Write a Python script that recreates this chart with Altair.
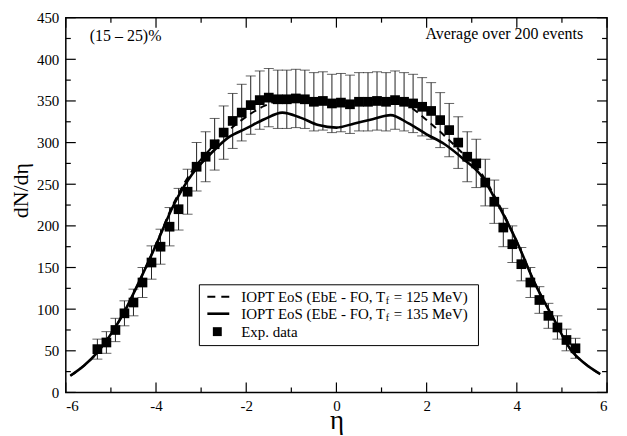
import altair as alt
import pandas as pd

# ---------------- data ----------------
exp_eta = [-5.3, -5.1, -4.9, -4.7, -4.5, -4.3, -4.1, -3.9, -3.7, -3.5, -3.3, -3.1, -2.9, -2.7,
           -2.5, -2.3, -2.1, -1.9, -1.7, -1.5, -1.3, -1.1, -0.9, -0.7, -0.5, -0.3, -0.1,
           0.1, 0.3, 0.5, 0.7, 0.9, 1.1, 1.3, 1.5, 1.7, 1.9, 2.1, 2.3, 2.5, 2.7, 2.9,
           3.1, 3.3, 3.5, 3.7, 3.9, 4.1, 4.3, 4.5, 4.7, 4.9, 5.1, 5.3]
exp_val = [52, 60, 75, 95, 108, 132, 156, 175, 199, 220, 241, 271, 283, 298,
           312, 326, 336, 345, 351, 354, 352, 352, 353, 352, 349, 350, 347,
           348, 346, 349, 349, 350, 349, 351, 349, 347, 343, 338, 327, 315, 300, 283,
           275, 252, 229, 198, 178, 154, 132, 111, 92, 78, 63, 53]
exp_err = [12, 13, 14, 15, 16, 18, 20, 21, 23, 25, 27, 29, 30, 31,
           32, 33, 34, 35, 35, 35, 35, 35, 35, 35, 35, 35, 35,
           35, 35, 35, 35, 35, 35, 35, 35, 35, 35, 34, 33, 32, 31, 30,
           29, 28, 26, 23, 22, 20, 18, 16, 15, 14, 13, 12]

model_eta = [-5.9, -5.6, -5.3, -5.0, -4.7, -4.4, -4.0, -3.6, -3.2, -2.8, -2.4, -2.0, -1.6,
             -1.2, -0.8, -0.4, 0.0, 0.4, 0.8, 1.2, 1.6, 2.0, 2.4, 2.8, 3.2, 3.6, 4.0,
             4.4, 4.8, 5.2, 5.5, 5.85]
tf135 = [20, 32, 48, 70, 97, 130, 177, 226, 262, 286, 306, 317, 328,
         336, 330, 321, 318, 323, 328, 333, 323, 310, 298, 281, 261, 224, 181,
         131, 90, 51, 35, 22]
tf125 = [20, 32, 48, 70, 97, 130, 178, 228, 266, 292, 314, 331, 344,
         351, 352, 349, 347, 349, 351, 351, 344, 327, 308, 287, 264, 226, 181,
         131, 90, 51, 35, 22]

x_major = [-6, -4, -2, 0, 2, 4, 6]
x_minor = [-5, -3, -1, 1, 3, 5]
y_major = [0, 50, 100, 150, 200, 250, 300, 350, 400, 450]
y_minor = [25, 75, 125, 175, 225, 275, 325, 375, 425]

legend_labels = ["IOPT EoS (EbE - FO, T", "IOPT EoS (EbE - FO, T"]
legend_tail = ["= 125 MeV)", "= 135 MeV)"]

# ---------------- layout ----------------
W, H = 543, 376
FONT = "Liberation Serif"

xs = alt.Scale(domain=[-6, 6], nice=False, zero=False)
ys = alt.Scale(domain=[0, 450], nice=False, zero=False)

exp_df = pd.DataFrame({
    "eta": exp_eta,
    "v": exp_val,
    "lo": [v - e for v, e in zip(exp_val, exp_err)],
    "hi": [v + e for v, e in zip(exp_val, exp_err)],
})
m135 = pd.DataFrame({"eta": model_eta, "v": tf135})
m125 = pd.DataFrame({"eta": model_eta, "v": tf125})

X = lambda: alt.X("eta:Q", scale=xs, axis=alt.Axis(
    values=x_major, title="η", labelExpr="toString(datum.value)",
    titleFontSize=27, titlePadding=-6, labelPadding=6))
Y = lambda: alt.Y("v:Q", scale=ys, axis=alt.Axis(
    values=y_major, title="dN/dη", titleFontSize=22, titlePadding=4, labelPadding=7,
    titleY=173))

err_rule = alt.Chart(exp_df).mark_rule(color="#222", strokeWidth=1).encode(
    x=X(), y=alt.Y("lo:Q", scale=ys), y2="hi:Q")
cap_lo = alt.Chart(exp_df).mark_tick(color="#222", orient="horizontal", size=10, thickness=1).encode(
    x=X(), y=alt.Y("lo:Q", scale=ys))
cap_hi = alt.Chart(exp_df).mark_tick(color="#222", orient="horizontal", size=10, thickness=1).encode(
    x=X(), y=alt.Y("hi:Q", scale=ys))

line135 = alt.Chart(m135).mark_line(color="black", strokeWidth=2.6, interpolate="monotone").encode(
    x=X(), y=Y())
line125 = alt.Chart(m125).mark_line(color="black", strokeWidth=2, strokeDash=[7, 5],
                                     interpolate="monotone").encode(x=X(), y=Y())
squares = alt.Chart(exp_df).mark_square(color="black", size=95, opacity=1).encode(x=X(), y=Y())

# ticks (inward, on all four sides)
xt_major = pd.DataFrame({"eta": x_major})
xt_minor = pd.DataFrame({"eta": x_minor})
yt_major = pd.DataFrame({"v": y_major})
yt_minor = pd.DataFrame({"v": y_minor})


def xticks(df, length):
    b = alt.Chart(df).mark_rule(color="black", strokeWidth=1.2).encode(
        x=X(), y=alt.value(H), y2=alt.value(H - length))
    t = alt.Chart(df).mark_rule(color="black", strokeWidth=1.2).encode(
        x=X(), y=alt.value(0), y2=alt.value(length))
    return [b, t]


def yticks(df, length):
    l = alt.Chart(df).mark_rule(color="black", strokeWidth=1.2).encode(
        y=Y(), x=alt.value(0), x2=alt.value(length))
    r = alt.Chart(df).mark_rule(color="black", strokeWidth=1.2).encode(
        y=Y(), x=alt.value(W), x2=alt.value(W - length))
    return [l, r]


ticks = xticks(xt_major, 10) + xticks(xt_minor, 5) + yticks(yt_major, 10) + yticks(yt_minor, 5)

# annotations
txt_cent = alt.Chart(pd.DataFrame({"t": ["(15 – 25)%"]})).mark_text(
    font=FONT, fontSize=16, align="left", baseline="middle", color="black").encode(
    text="t:N", x=alt.value(24), y=alt.value(18))
txt_avg = alt.Chart(pd.DataFrame({"t": ["Average over 200 events"]})).mark_text(
    font=FONT, fontSize=16, align="right", baseline="middle", color="black").encode(
    text="t:N", x=alt.value(519), y=alt.value(16))

# legend box
leg_box = alt.Chart(pd.DataFrame({"a": [0]})).mark_rect(
    fill="white", stroke="black", strokeWidth=1).encode(
    x=alt.value(134), x2=alt.value(414), y=alt.value(268), y2=alt.value(329))
row_y = [280, 297, 315]
leg_dash = alt.Chart(pd.DataFrame({"a": [0]})).mark_rule(
    color="black", strokeWidth=2, strokeDash=[8, 6]).encode(
    x=alt.value(142), x2=alt.value(164), y=alt.value(row_y[0]))
leg_solid = alt.Chart(pd.DataFrame({"a": [0]})).mark_rule(
    color="black", strokeWidth=2.6).encode(
    x=alt.value(142), x2=alt.value(164), y=alt.value(row_y[1]))
leg_sq = alt.Chart(pd.DataFrame({"a": [0]})).mark_square(
    color="black", size=80, opacity=1).encode(x=alt.value(152), y=alt.value(row_y[2]))

leg_texts = []
for i in range(2):
    leg_texts.append(alt.Chart(pd.DataFrame({"t": [legend_labels[i]]})).mark_text(
        font=FONT, fontSize=15, align="left", baseline="middle", color="black").encode(
        text="t:N", x=alt.value(176), y=alt.value(row_y[i])))
    leg_texts.append(alt.Chart(pd.DataFrame({"t": ["f"]})).mark_text(
        font=FONT, fontSize=10, align="left", baseline="middle", color="black").encode(
        text="t:N", x=alt.value(321), y=alt.value(row_y[i] + 4)))
    leg_texts.append(alt.Chart(pd.DataFrame({"t": [legend_tail[i]]})).mark_text(
        font=FONT, fontSize=15, align="left", baseline="middle", color="black").encode(
        text="t:N", x=alt.value(329), y=alt.value(row_y[i])))
leg_texts.append(alt.Chart(pd.DataFrame({"t": ["Exp. data"]})).mark_text(
    font=FONT, fontSize=15, align="left", baseline="middle", color="black").encode(
    text="t:N", x=alt.value(176), y=alt.value(row_y[2])))

chart = alt.layer(
    err_rule, cap_lo, cap_hi, line135, line125, squares,
    *ticks, txt_cent, txt_avg, leg_box, leg_dash, leg_solid, leg_sq, *leg_texts
).properties(
    width=W, height=H,
    autosize=alt.AutoSizeParams(type="none"),
    padding={"left": 58, "top": 9, "right": 12, "bottom": 42},
    background="white",
).configure_view(
    stroke="black", strokeWidth=1.5
).configure_axis(
    grid=False, ticks=False, domain=False,
    labelFont=FONT, labelFontSize=15, labelColor="black",
    titleFont=FONT, titleFontWeight="normal", titleColor="black",
)

chart.save("out.html", embed_options={"renderer": "svg", "actions": False})
